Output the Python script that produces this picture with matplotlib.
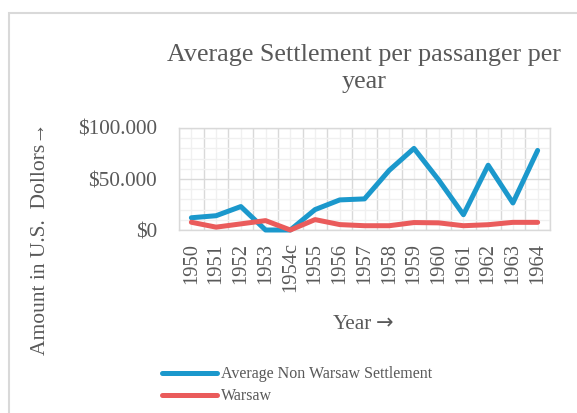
import matplotlib
matplotlib.use("Agg")
import matplotlib.pyplot as plt
from matplotlib.patches import Rectangle
from matplotlib.ticker import MultipleLocator, FixedLocator, FuncFormatter

years = ["1950", "1951", "1952", "1953", "1954c", "1955", "1956", "1957",
         "1958", "1959", "1960", "1961", "1962", "1963", "1964"]
non_warsaw = [12000, 14000, 23000, 0, 0, 20000, 29500, 30500,
              58500, 80000, 49000, 15000, 63500, 26500, 78000]
warsaw = [7600, 2800, 6000, 9200, 0, 10200, 5300, 4200,
          4200, 7300, 7000, 4200, 5200, 7500, 7500]

GRAY = "#595959"
plt.rcParams['font.family'] = ['Liberation Serif', 'DejaVu Serif']

fig = plt.figure(figsize=(5.77, 4.13), dpi=100)
ax = fig.add_axes([179/577, 1-230/413, (550-179)/577, (230-128)/413])

x = list(range(len(years)))
ax.plot(x, non_warsaw, color="#1B98CC", lw=3.6, solid_capstyle="round",
        solid_joinstyle="round", label="Average Non Warsaw Settlement", clip_on=False, zorder=3)
ax.plot(x, warsaw, color="#EA5B5B", lw=3.6, solid_capstyle="round",
        solid_joinstyle="round", label="Warsaw", clip_on=False, zorder=3)

ax.set_xlim(-0.5, len(years) - 0.5)
ax.set_ylim(0, 100000)
ax.xaxis.set_major_locator(FixedLocator(x))
ax.set_xticklabels(years, rotation=90)
ax.xaxis.set_minor_locator(FixedLocator([i + 0.5 for i in range(-1, len(years))]))
ax.yaxis.set_major_locator(MultipleLocator(50000))
ax.yaxis.set_minor_locator(MultipleLocator(10000))

def fmt(v, pos):
    if v == 0:
        return "$0"
    return "${:,.0f}".format(v).replace(",", ".")
ax.yaxis.set_major_formatter(FuncFormatter(fmt))

ax.grid(which="major", axis="y", color="#d9d9d9", lw=1.0)
ax.grid(which="minor", axis="x", color="#d9d9d9", lw=1.0)
ax.grid(which="minor", axis="y", color="#f0f0f0", lw=1.0)
ax.grid(which="major", axis="x", color="#f0f0f0", lw=1.0)
ax.set_axisbelow(True)
for s in ax.spines.values():
    s.set_color("#d9d9d9")
    s.set_linewidth(1.0)

ax.tick_params(which="both", length=0)
ax.tick_params(axis="y", pad=16, labelsize=15.3, labelcolor=GRAY)
ax.tick_params(axis="x", pad=9, labelsize=14.8, labelcolor=GRAY)

fig.text(364/577, 1-61/413, "Average Settlement per passanger per",
         ha="center", va="baseline", fontsize=18.8, color=GRAY)
fig.text(364/577, 1-88/413, "year",
         ha="center", va="baseline", fontsize=18.8, color=GRAY)
fig.text(41/577, 1-239/413, "Amount in U.S.  Dollors\u2192", rotation=90,
         ha="center", va="center", fontsize=15.5, color=GRAY)
fig.text(372/577, 1-329/413, "Year", ha="right", va="baseline",
         fontsize=15.3, color=GRAY)
fig.text(376/577, 1-329/413, "\u2192", ha="left", va="baseline",
         fontsize=15, color=GRAY, family=['DejaVu Sans'])

leg = fig.legend(loc="upper left", bbox_to_anchor=(156/577, 1-360/413),
                 frameon=False, fontsize=11.5, labelcolor=GRAY,
                 handlelength=3.4, handletextpad=0.25, labelspacing=0.38,
                 borderaxespad=0)

fig.patches.append(Rectangle((9/577, -0.1), 1.2, 1 - 13/413 + 0.1,
                             transform=fig.transFigure, fill=False,
                             edgecolor="#d9d9d9", lw=1.5, zorder=0))

fig.savefig("out.png", dpi=100)
